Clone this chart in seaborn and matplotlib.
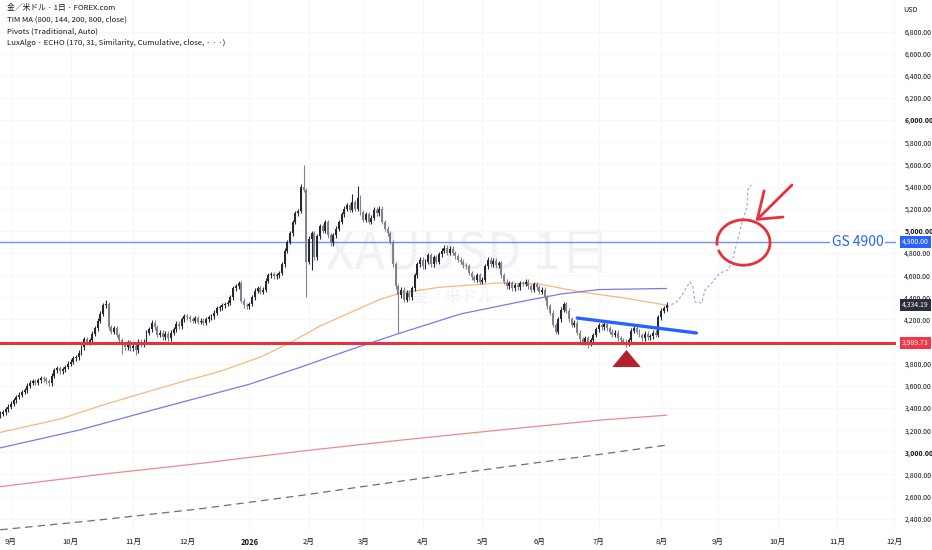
import numpy as np
import pandas as pd
import matplotlib
matplotlib.use('Agg')
import matplotlib.pyplot as plt
import matplotlib.transforms as mtransforms
from matplotlib.patches import Arc
import seaborn as sns

# daily closes, XAUUSD (one per trading day from 2025-08-25)
closes = [
    3330, 3350, 3360, 3390, 3410, 3440, 3470, 3500, 3520, 3545,
    3560, 3600, 3630, 3640, 3630, 3650, 3670, 3660, 3640, 3625,
    3690, 3740, 3760, 3730, 3750, 3770, 3800, 3820, 3850, 3860,
    3900, 3950, 4020, 3990, 4010, 4070, 4120, 4190, 4250, 4330,
    4340, 4130, 4090, 4120, 4060, 4010, 3970, 3950, 3990, 3940,
    3960, 3920, 4000, 3970, 4000, 4080, 4110, 4170, 4130, 4060,
    4080, 4040, 4070, 4030, 4080, 4110, 4160, 4140, 4200, 4230,
    4220, 4200, 4190, 4210, 4180, 4190, 4170, 4200, 4220, 4230,
    4260, 4300, 4310, 4330, 4340, 4350, 4400, 4480, 4500, 4530,
    4370, 4330, 4320, 4340, 4400, 4460, 4480, 4450, 4470, 4550,
    4600, 4610, 4590, 4600, 4620, 4700, 4820, 4900, 4980, 5080,
    5160, 5180, 5400, 5370, 4720, 4930, 4980, 4760, 4950, 5040,
    5000, 5080, 4960, 4890, 4960, 5020, 5080, 5150, 5200, 5230,
    5190, 5260, 5200, 5300, 5170, 5100, 5150, 5080, 5120, 5190,
    5160, 5200, 5080, 5020, 4980, 4900, 4700, 4500, 4420, 4470,
    4380, 4440, 4400, 4480, 4600, 4700, 4740, 4680, 4720, 4780,
    4700, 4760, 4720, 4790, 4820, 4850, 4800, 4840, 4800, 4770,
    4740, 4720, 4690, 4680, 4620, 4580, 4560, 4600, 4540, 4560,
    4680, 4740, 4700, 4730, 4690, 4710, 4600, 4540, 4500, 4530,
    4480, 4510, 4490, 4530, 4520, 4540, 4500, 4470, 4520, 4490,
    4450, 4470, 4400, 4320, 4260, 4150, 4090, 4200, 4290, 4340,
    4280, 4200, 4150, 4170, 4080, 4020, 3990, 4030, 3980, 4010,
    4060, 4110, 4150, 4130, 4160, 4120, 4090, 4060, 4080, 4030,
    4010, 4000, 3985, 4010, 4100, 4120, 4090, 4060, 4030, 4070,
    4040, 4050, 4080, 4060, 4220, 4280, 4300, 4334.19,
]
first_open = 3310
high_marks = {40: 4380, 89: 4550, 113: 5596, 131: 5330, 133: 5410}
low_marks = {46: 3890, 51: 3880, 114: 4400, 116: 4650, 148: 4080, 218: 3945, 232: 3950}

# TIM MA lines (candle index, price)
ma144_x = [1, 23, 38, 53, 67, 82, 97, 108, 119, 130, 141, 149, 163, 185, 200, 215, 231, 247]
ma144_y = [3180, 3300, 3420, 3530, 3630, 3730, 3860, 3990, 4140, 4260, 4380, 4440, 4490, 4530, 4520, 4450, 4395, 4330]
ma200_x = [1, 30, 60, 93, 112, 130, 149, 171, 193, 208, 222, 247]
ma200_y = [3040, 3200, 3400, 3615, 3770, 3925, 4080, 4250, 4360, 4430, 4470, 4480]
ma800_x = [1, 38, 75, 112, 149, 185, 222, 247]
ma800_y = [2690, 2800, 2900, 3010, 3110, 3200, 3290, 3335]
ma800b_y = [2300, 2390, 2490, 2610, 2740, 2860, 2980, 3065]

# LuxAlgo ECHO projection
echo_x = [247.1, 250.8, 252.7, 255.6, 256.7, 257.5, 260, 261.2, 263.7, 266.7, 269.7, 271.1, 273, 274.8, 276.7, 277, 278.2]
echo_y = [4313, 4358, 4421, 4539, 4494, 4358, 4349, 4466, 4530, 4620, 4647, 4720, 4900, 5072, 5217, 5370, 5415]

# drawings
support_level = 3989.73
target_level = 4900
last_close = 4334.19
trend_x = [214, 258]
trend_y = [4213, 4078]
triangle_x = 232
triangle_y = 3856
arrow_shaft_x = [293.3, 280.5]
arrow_shaft_y = [5415, 5105]
arrow_head_x = [283.0, 280.5, 290.0]
arrow_head_y = [5362, 5105, 5125]

month_labels = ['9月', '10月', '11月', '12月', '2026', '2月', '3月', '4月', '5月', '6月',
                '7月', '8月', '9月', '10月', '11月', '12月']
price_ticks = [2400, 2600, 2800, 3000, 3200, 3400, 3600, 3800, 4200, 4400, 4600, 4800,
               5000, 5200, 5400, 5600, 5800, 6000, 6200, 6400, 6600, 6800]
bold_ticks = [3000, 5000, 6000]

header = ['金／米ドル · 1日 · FOREX.com',
          'TIM MA (800, 144, 200, 800, close)',
          'Pivots (Traditional, Auto)',
          'LuxAlgo · ECHO (170, 31, Similarity, Cumulative, close, · · ·)']

sns.set_theme(style='white')
FONT = ['Noto Sans CJK JP', 'DejaVu Sans']
plt.rcParams['font.family'] = FONT

dates = pd.bdate_range('2025-08-25', '2026-12-31')
n = len(closes)
idx = np.arange(n)
c = np.array(closes, dtype=float)
o = np.array([first_open] + closes[:-1], dtype=float)
top = np.maximum(o, c)
bot = np.minimum(o, c)
hi = top + 22
lo = bot - 22
for k, v in high_marks.items():
    hi[k] = v
for k, v in low_marks.items():
    lo[k] = v

fig = plt.figure(figsize=(9.32, 5.5), dpi=100)
ax = fig.add_axes([0, 18 / 550, 896 / 932, 532 / 550])
ax.set_xlim(0.92, 331.7)
ax.set_ylim(2280, 7086)

# watermark
ax.text(173.7, 4782, 'XAUUSD 1日', fontsize=36, color='#f0f1f4', ha='center', va='center', zorder=0)
ax.text(168, 4400, '金／米ドル', fontsize=12, color='#f0f1f4', ha='center', va='center', zorder=0)

up = c >= o
col = np.where(up, '#262931', '#80838c')
ax.vlines(idx, lo, hi, colors=col, linewidth=0.8, zorder=3)
ax.bar(idx, np.maximum(top - bot, 6), bottom=bot, width=0.72, color=col, linewidth=0, zorder=4)

ma = pd.DataFrame({'x': ma144_x, 'y': ma144_y})
sns.lineplot(data=ma, x='x', y='y', ax=ax, color='#f9b77a', linewidth=0.9, zorder=2)
ma = pd.DataFrame({'x': ma200_x, 'y': ma200_y})
sns.lineplot(data=ma, x='x', y='y', ax=ax, color='#7b78ee', linewidth=0.9, zorder=2)
ma = pd.DataFrame({'x': ma800_x, 'y': ma800_y})
sns.lineplot(data=ma, x='x', y='y', ax=ax, color='#f08a8a', linewidth=0.9, zorder=2)
ma = pd.DataFrame({'x': ma800_x, 'y': ma800b_y})
sns.lineplot(data=ma, x='x', y='y', ax=ax, color='#6f6f6f', linewidth=0.9,
             linestyle=(0, (6, 4)), zorder=2)
ech = pd.DataFrame({'x': echo_x, 'y': echo_y})
sns.lineplot(data=ech, x='x', y='y', ax=ax, sort=False, color='#95a3ec', linewidth=0.8,
             linestyle=(0, (2.5, 2)), zorder=2)

ax.axhline(support_level, color='#e5323c', linewidth=2.2, zorder=5)
ax.axhline(target_level, color='#6f8ff5', linewidth=1.0, zorder=1)
ax.plot(trend_x, trend_y, color='#2962ff', linewidth=2.4, solid_capstyle='round', zorder=6)
ax.scatter([triangle_x], [triangle_y], marker=[(-1, -0.6), (1, -0.6), (0, 0.6)], s=420,
           color='#b3202e', linewidths=0, zorder=7)
ax.add_patch(Arc((275.4, 4895), 19.6, 410, theta1=262, theta2=250, color='#e5323c',
                 linewidth=2.0, zorder=7))
ax.plot(arrow_shaft_x, arrow_shaft_y, color='#e5323c', linewidth=2.0, solid_capstyle='round', zorder=7)
ax.plot(arrow_head_x, arrow_head_y, color='#e5323c', linewidth=2.0, solid_capstyle='round',
        solid_joinstyle='round', zorder=7)

ax.text(308, target_level, 'GS 4900', color='#2962ff', fontsize=10, ha='left', va='center',
        zorder=8, bbox=dict(boxstyle='square,pad=0.1', fc='white', ec='none'))

# axes
month_pos = pd.Series(np.arange(len(dates)), index=dates).groupby([dates.year, dates.month]).first()
xt = month_pos.values[1:1 + len(month_labels)]
ax.set_xticks(xt, labels=month_labels)
ax.yaxis.tick_right()
ax.set_yticks(price_ticks, labels=[f'{p:,.2f}' for p in price_ticks])
ax.tick_params(axis='x', length=0, pad=4, labelsize=5.5, labelcolor='#131722')
ax.tick_params(axis='y', length=0, pad=6, labelsize=5.0, labelcolor='#131722')
for lbl in ax.get_yticklabels():
    if lbl.get_text() in [f'{p:,.2f}' for p in bold_ticks]:
        lbl.set_fontweight('bold')
for lbl in ax.get_xticklabels():
    if lbl.get_text() == '2026':
        lbl.set_fontweight('bold')
ax.grid(True, color='#f7f8fa', linewidth=0.8)
ax.set_axisbelow(True)
for s in ax.spines.values():
    s.set_visible(False)
ax.set_xlabel('')
ax.set_ylabel('')

trans = mtransforms.blended_transform_factory(ax.transAxes, ax.transData)
for val, fc in [(target_level, '#2962ff'), (last_close, '#2a2e39'), (support_level, '#f23645')]:
    ax.text(1.0065, val, f'{val:,.2f}', transform=trans, color='white', fontsize=5.0,
            ha='left', va='center', clip_on=False, zorder=9,
            bbox=dict(boxstyle='square,pad=0.3', fc=fc, ec='none'))

fig.text(903 / 932, 1 - 10 / 550, 'USD', fontsize=5.2, color='#131722', va='center')
for i, line in enumerate(header):
    fig.text(7 / 932, 1 - (8 + i * 11.7) / 550, line, fontsize=5.6, color='#131722', va='center')

fig.savefig('out.png', dpi=100, facecolor='white')
